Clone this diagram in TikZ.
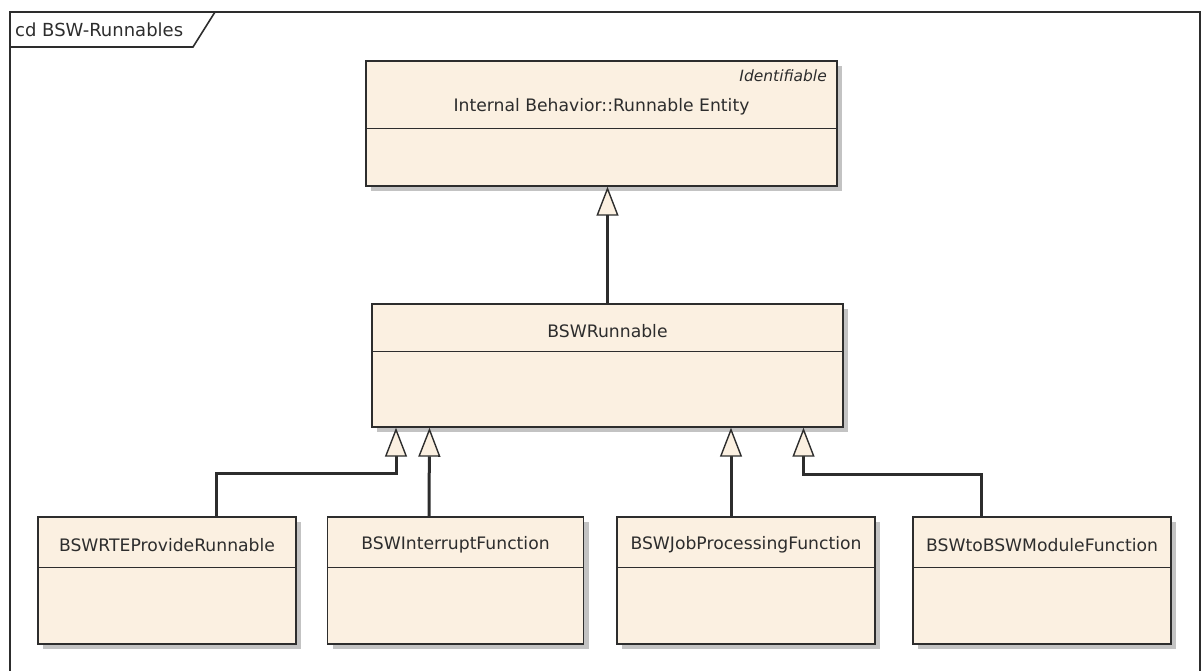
\documentclass[tikz,border=0pt]{standalone}
\usepackage{fontspec}
\setmainfont{DejaVu Sans}
\usetikzlibrary{arrows.meta,shadows,calc}
\definecolor{cream}{RGB}{251,240,225}
\definecolor{linec}{RGB}{45,45,45}
\definecolor{shade}{RGB}{195,195,195}
\begin{document}
\begin{tikzpicture}[x=1pt,y=-1pt,
  umlbox/.style={rectangle, draw=linec, line width=1.4pt, fill=cream, inner sep=0pt,
    drop shadow={shadow xshift=5pt, shadow yshift=-5pt, fill=shade, opacity=1}},
  classname/.style={inner sep=0pt, text=linec, font=\fontsize{17.2pt}{20pt}\selectfont},
  titletext/.style={inner sep=0pt, text=linec, font=\fontsize{18pt}{21pt}\selectfont},
  stereo/.style={inner sep=0pt, text=linec, font=\fontsize{15.5pt}{18pt}\selectfont\itshape},
  divider/.style={draw=linec, line width=1.4pt},
  frameline/.style={draw=linec, line width=1.6pt},
  gen/.style={draw=linec, line width=3pt,
    -{Triangle[length=29pt,width=22pt,fill=cream,line width=1.4pt]}}
]
\useasboundingbox (0,0) rectangle (1202,671);

% diagram frame with its name tab
\draw[frameline] (10,700) -- (10,12) -- (1200,12) -- (1200,700);
\draw[frameline] (10,47) -- (193,47) -- (215,12);
\node[titletext, anchor=west] (title) at (15,30) {cd BSW-Runnables};

% classes
\node[umlbox, minimum width=471pt, minimum height=125pt] (re) at (601.5,123.5) {};
\draw[divider] ($(re.north west)+(0,68)$) -- ($(re.north east)+(0,68)$);
\node[stereo, anchor=east] (reid) at (827,76) {Identifiable};
\node[classname] (rename) at (601.5,107) {Internal Behavior::Runnable Entity};

\node[umlbox, minimum width=471pt, minimum height=123pt] (bsw) at (607.5,365.5) {};
\draw[divider] ($(bsw.north west)+(0,48)$) -- ($(bsw.north east)+(0,48)$);
\node[classname] (bswname) at (607.5,331) {BSWRunnable};

\node[umlbox, minimum width=258pt, minimum height=127pt] (rte) at (167,580.5) {};
\draw[divider] ($(rte.north west)+(0,51)$) -- ($(rte.north east)+(0,51)$);
\node[classname] (rtename) at (167,545) {BSWRTEProvideRunnable};

\node[umlbox, minimum width=256pt, minimum height=127pt] (irq) at (455.5,580.5) {};
\draw[divider] ($(irq.north west)+(0,51)$) -- ($(irq.north east)+(0,51)$);
\node[classname] (irqname) at (455.5,545) {BSWInterruptFunction};

\node[umlbox, minimum width=258pt, minimum height=127pt] (job) at (746,580.5) {};
\draw[divider] ($(job.north west)+(0,51)$) -- ($(job.north east)+(0,51)$);
\node[classname] (jobname) at (746,545) {BSWJobProcessingFunction};

\node[umlbox, minimum width=258pt, minimum height=127pt] (mod) at (1042,580.5) {};
\draw[divider] ($(mod.north west)+(0,51)$) -- ($(mod.north east)+(0,51)$);
\node[classname] (modname) at (1042,545) {BSWtoBSWModuleFunction};

% generalizations
\draw[gen] (bsw.north) -- (bsw.north |- re.south);
\draw[gen] ($(rte.north)+(49,0)$) |- ($(bsw.south)+(-211.5,46)$) -- ($(bsw.south)+(-211.5,0)$);
\draw[gen] ($(irq.north)+(-26.5,0)$) -- ($(bsw.south)+(-178,0)$);
\draw[gen] ($(job.north)+(-15,0)$) -- ($(bsw.south)+(123.5,0)$);
\draw[gen] ($(mod.north)+(-61,0)$) |- ($(bsw.south)+(196,47)$) -- ($(bsw.south)+(196,0)$);
\end{tikzpicture}
\end{document}
